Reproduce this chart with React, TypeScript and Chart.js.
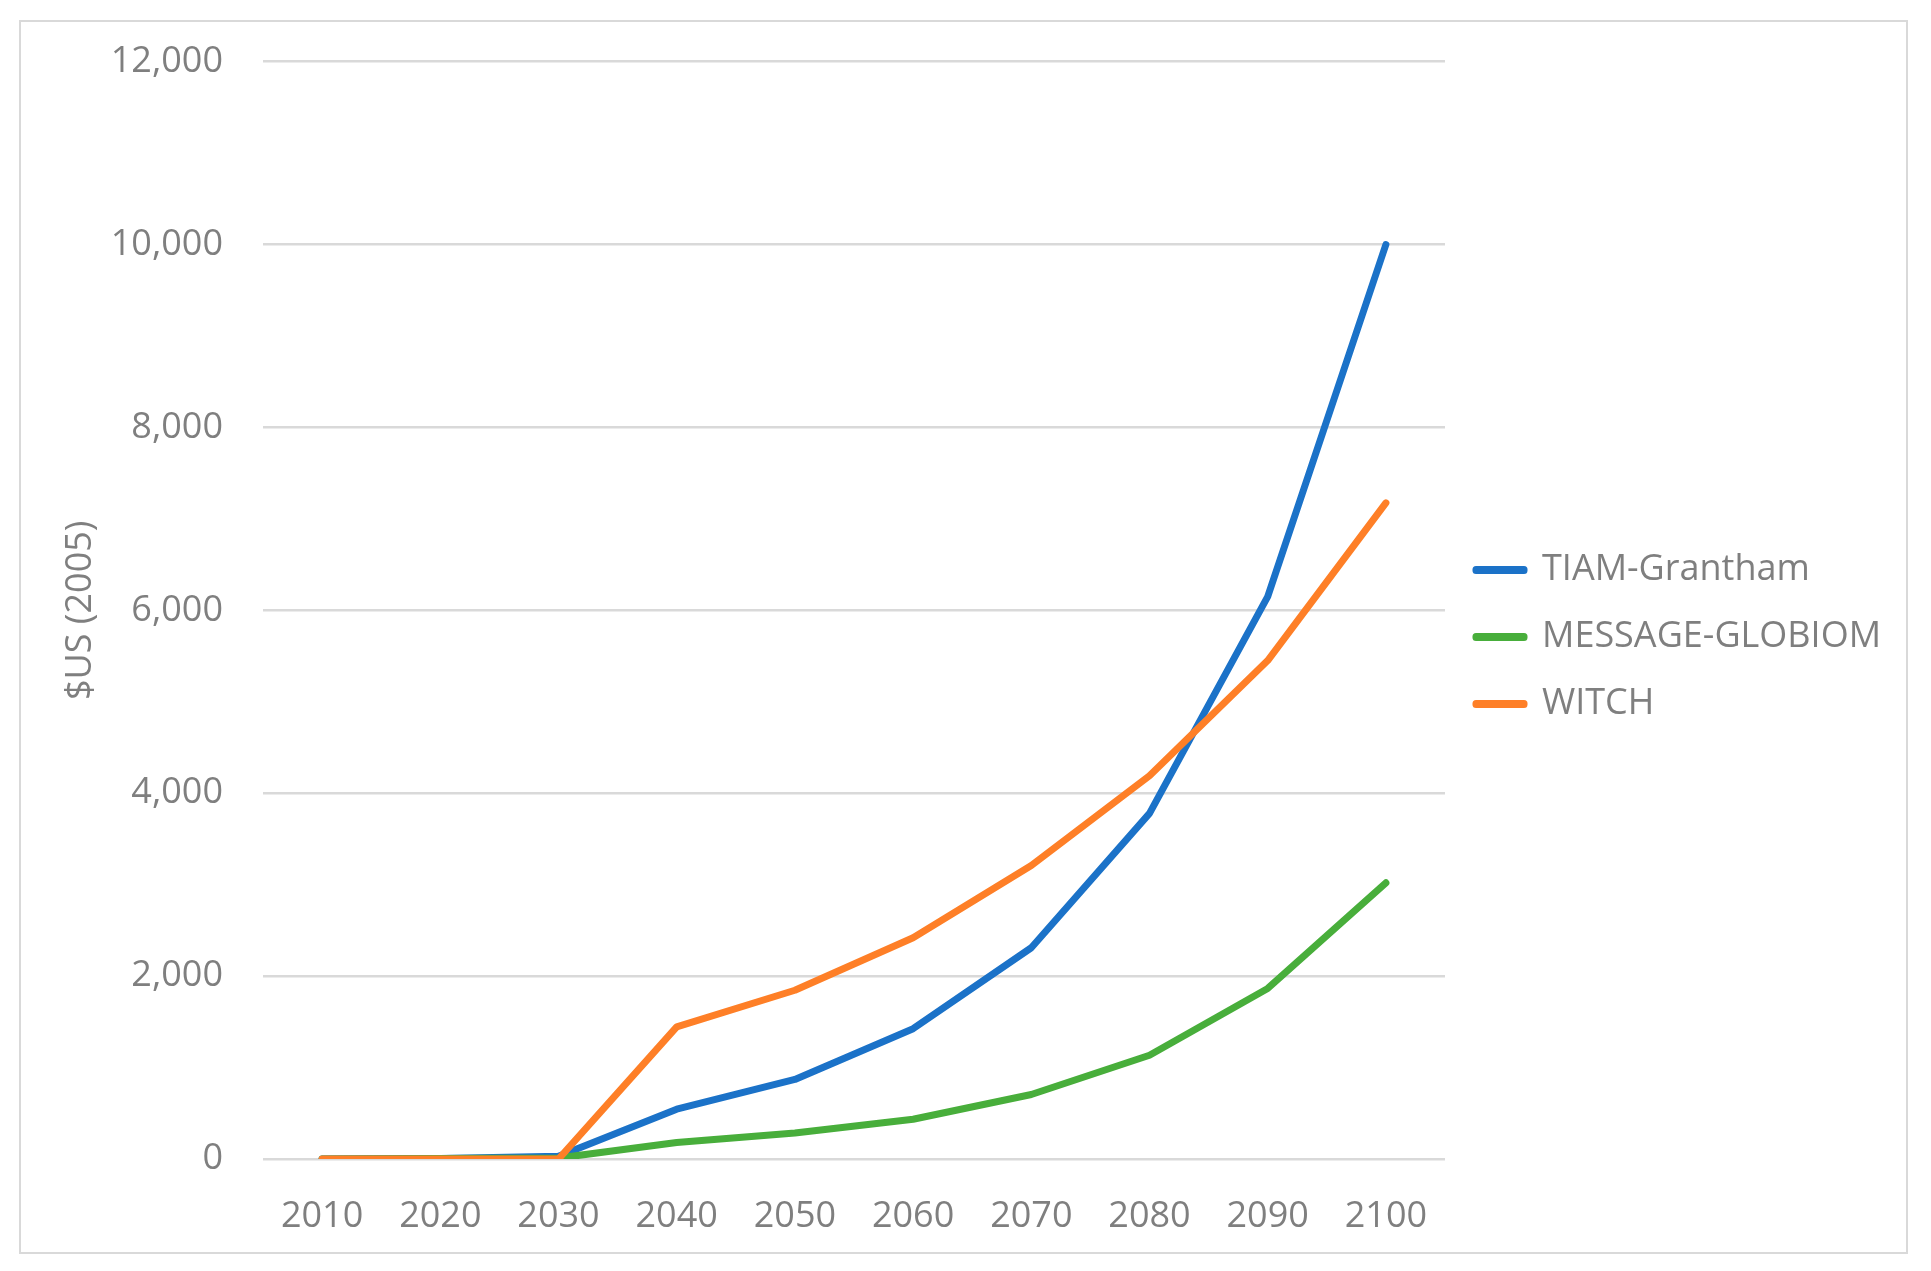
import { useRef, useEffect } from 'react';
import { Chart, registerables } from 'chart.js';

Chart.register(...registerables);

const years = ['2010', '2020', '2030', '2040', '2050', '2060', '2070', '2080', '2090', '2100'];
const tiamGrantham = [0, 5, 30, 545, 870, 1425, 2310, 3780, 6150, 10000];
const messageGlobiom = [0, 5, 10, 180, 285, 435, 705, 1135, 1865, 3020];
const witch = [0, 0, 0, 1445, 1845, 2420, 3210, 4190, 5450, 7175];

const FONT = '"Open Sans", sans-serif';
const GREY = '#7f7f7f';
const GRID = '#d9d9d9';

const W = 1931;
const H = 1271;
const PLOT_RIGHT = 1445;
const PAD = { left: 40, top: 59, right: 20, bottom: 56 };

export default function App() {
  const canvasRef = useRef<HTMLCanvasElement>(null);
  const chartRef = useRef<Chart | null>(null);

  useEffect(() => {
    if (!canvasRef.current) return;
    if (chartRef.current) chartRef.current.destroy();

    const line = (label: string, data: number[], color: string, order: number) => ({
      label,
      data,
      order,
      borderColor: color,
      backgroundColor: color,
      borderWidth: 7,
      borderCapStyle: 'round' as const,
      borderJoinStyle: 'round' as const,
      pointRadius: 0,
      tension: 0,
    });

    // pin the legend width so the plot ends where the reference does
    const legendWidth = {
      id: 'legendWidth',
      afterInit(chart: any) {
        const lg = chart.legend;
        if (!lg || lg._fixed) return;
        const fit = lg.fit.bind(lg);
        lg.fit = () => {
          fit();
          lg.width = W - PAD.right - PLOT_RIGHT;
        };
        lg._fixed = true;
      },
    };

    chartRef.current = new Chart(canvasRef.current, {
      type: 'line',
      data: {
        labels: years,
        datasets: [
          line('TIAM-Grantham', tiamGrantham, '#1b72c8', 2),
          line('MESSAGE-GLOBIOM', messageGlobiom, '#48ae3b', 1),
          line('WITCH', witch, '#fe7f27', 0),
        ],
      },
      options: {
        animation: false,
        responsive: true,
        maintainAspectRatio: false,
        layout: { padding: PAD },
        plugins: {
          tooltip: { enabled: false },
          legend: {
            position: 'right',
            labels: {
              font: { family: FONT, size: 36 },
              color: GREY,
              boxWidth: 48,
              boxHeight: 1,
              padding: 31,
              sort: (a: any, b: any) => a.datasetIndex - b.datasetIndex,
            },
          },
        },
        scales: {
          x: {
            offset: true,
            grid: { display: false },
            border: { display: false },
            ticks: {
              font: { family: FONT, size: 36 },
              color: GREY,
              padding: 28,
              maxRotation: 0,
            },
            afterFit: (s: any) => {
              s.height = 56;
              // labels hang below the pinned box, so don't clip them
              s._computeLabelArea = () => undefined;
            },
          },
          y: {
            min: 0,
            max: 12000,
            border: { display: false },
            grid: { color: GRID, lineWidth: 2.5, drawTicks: false },
            ticks: {
              stepSize: 2000,
              font: { family: FONT, size: 36 },
              color: GREY,
              padding: 40,
              callback: (v: any) => Number(v).toLocaleString('en-US'),
            },
            title: {
              display: true,
              text: '$US (2005)',
              font: { family: FONT, size: 36 },
              color: GREY,
              padding: { top: 19, bottom: 0 },
            },
            afterFit: (s: any) => {
              s.width = 263 - PAD.left;
            },
          },
        },
      },
      plugins: [legendWidth],
    });

    return () => {
      chartRef.current?.destroy();
      chartRef.current = null;
    };
  }, []);

  return (
    <div style={{ position: 'absolute', left: 0, top: 0, width: W, height: H, background: '#fff' }}>
      <div
        style={{
          position: 'absolute',
          left: 19,
          top: 20,
          width: 1889,
          height: 1234,
          border: `2px solid ${GRID}`,
          boxSizing: 'border-box',
        }}
      />
      <div style={{ position: 'absolute', left: 0, top: 0, width: W, height: H }}>
        <canvas ref={canvasRef} />
      </div>
    </div>
  );
}
